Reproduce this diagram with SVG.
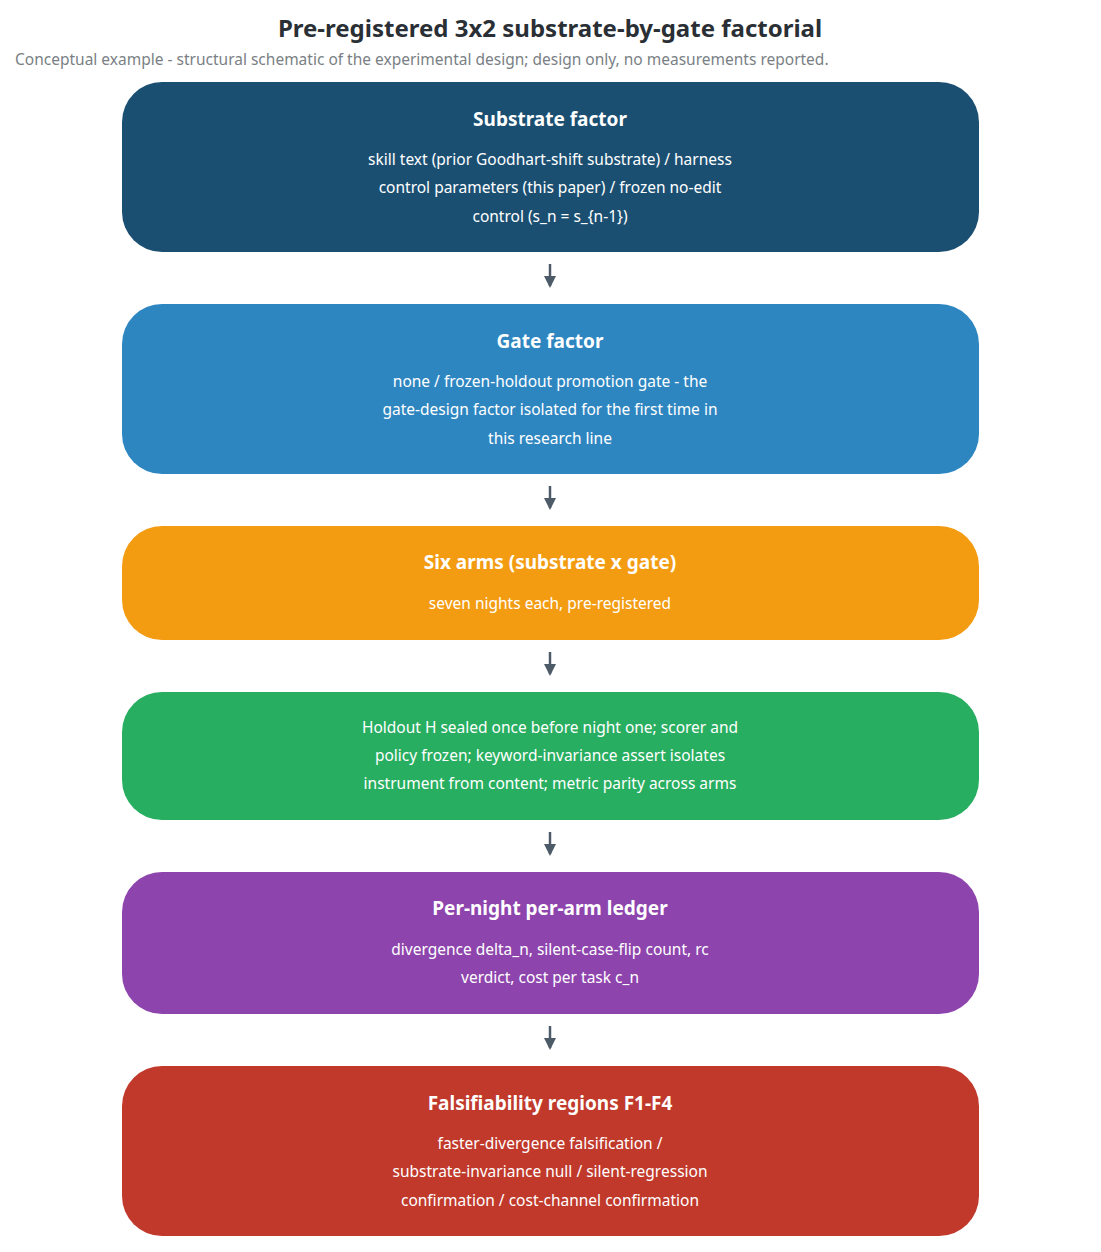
<svg xmlns="http://www.w3.org/2000/svg" width="1101" height="1252" viewBox="0 0 1101 1252">
<style>
.t{font-family:"Noto Sans","Noto Sans CJK KR",sans-serif;text-anchor:middle;fill:#fff}
.h{font-size:19px;font-weight:bold}
.b{font-size:15.5px}
.c{stroke:#4d5b69;stroke-width:2.5;fill:none}
</style>
<defs><marker id="a" markerWidth="6" markerHeight="6" refX="3" refY="3" orient="auto" markerUnits="userSpaceOnUse" viewBox="0 0 6 6"><path d="M0,0L6,3L0,6Z" fill="#4d5b69"/></marker>
<marker id="m" viewBox="0 0 12 12" markerWidth="12" markerHeight="12" refX="10" refY="6" orient="auto" markerUnits="userSpaceOnUse"><path d="M0,0L12,6L0,12Z" fill="#4d5b69"/></marker></defs>
<rect width="1101" height="1252" fill="#fff"/>
<text x="550" y="37" font-family="Noto Sans,sans-serif" font-size="24" font-weight="bold" fill="#2a2f35" text-anchor="middle">Pre-registered 3x2 substrate-by-gate factorial</text>
<text x="15" y="65" font-family="Noto Sans,sans-serif" font-size="15.5" fill="#7a7f85">Conceptual example - structural schematic of the experimental design; design only, no measurements reported.</text>
<g id="connectors">
<path class="c" d="M550,264V286" marker-end="url(#m)"/>
<path class="c" d="M550,486V508" marker-end="url(#m)"/>
<path class="c" d="M550,652V674" marker-end="url(#m)"/>
<path class="c" d="M550,832V854" marker-end="url(#m)"/>
<path class="c" d="M550,1026V1048" marker-end="url(#m)"/>
</g>
<g id="substrate"><rect x="122" y="82" width="857" height="170" rx="40" fill="#1b4f72"/>
<text class="t h" x="550" y="126">Substrate factor</text>
<text class="t b" x="550" y="165">skill text (prior Goodhart-shift substrate) / harness</text>
<text class="t b" x="550" y="193">control parameters (this paper) / frozen no-edit</text>
<text class="t b" x="550" y="222">control (s_n = s_{n-1})</text></g>
<g id="gate"><rect x="122" y="304" width="857" height="170" rx="40" fill="#2e86c1"/>
<text class="t h" x="550" y="348">Gate factor</text>
<text class="t b" x="550" y="387">none / frozen-holdout promotion gate - the</text>
<text class="t b" x="550" y="415">gate-design factor isolated for the first time in</text>
<text class="t b" x="550" y="444">this research line</text></g>
<g id="arms"><rect x="122" y="526" width="857" height="114" rx="40" fill="#f39c12"/>
<text class="t h" x="550" y="569">Six arms (substrate x gate)</text>
<text class="t b" x="550" y="609">seven nights each, pre-registered</text></g>
<g id="holdout"><rect x="122" y="692" width="857" height="128" rx="40" fill="#27ae60"/>
<text class="t b" x="550" y="733">Holdout H sealed once before night one; scorer and</text>
<text class="t b" x="550" y="761">policy frozen; keyword-invariance assert isolates</text>
<text class="t b" x="550" y="789">instrument from content; metric parity across arms</text></g>
<g id="ledger"><rect x="122" y="872" width="857" height="142" rx="40" fill="#8e44ad"/>
<text class="t h" x="550" y="915">Per-night per-arm ledger</text>
<text class="t b" x="550" y="955">divergence delta_n, silent-case-flip count, rc</text>
<text class="t b" x="550" y="983">verdict, cost per task c_n</text></g>
<g id="falsifiability"><rect x="122" y="1066" width="857" height="170" rx="40" fill="#c0392b"/>
<text class="t h" x="550" y="1110">Falsifiability regions F1-F4</text>
<text class="t b" x="550" y="1149">faster-divergence falsification /</text>
<text class="t b" x="550" y="1177">substrate-invariance null / silent-regression</text>
<text class="t b" x="550" y="1206">confirmation / cost-channel confirmation</text></g>
</svg>
